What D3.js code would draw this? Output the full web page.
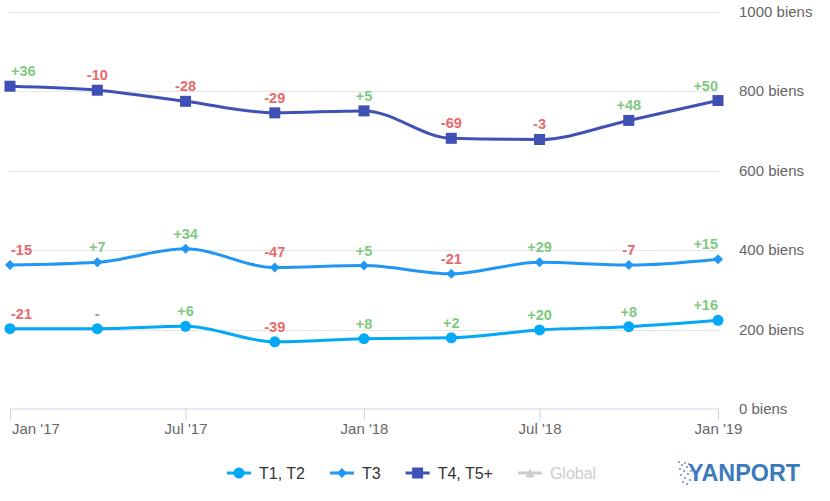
<!DOCTYPE html>
<html>
<head>
<meta charset="utf-8">
<script src="https://cdn.jsdelivr.net/npm/d3@7"></script>
<style>
  html, body { margin: 0; padding: 0; background: #fff; }
  svg { display: block; font-family: "Liberation Sans", Arial, sans-serif; }
</style>
</head>
<body>
<svg id="chart" width="830" height="501"></svg>
<script>
// ---- Data ----
const dates = ["2017-01-01","2017-04-01","2017-07-01","2017-10-01","2018-01-01","2018-04-01","2018-07-01","2018-10-01","2019-01-01"];
const t1t2 = [202, 202, 208, 169, 177, 179, 199, 207, 223];
const t3   = [362, 369, 403, 356, 361, 340, 369, 362, 377];
const t4t5 = [812, 802, 774, 745, 750, 681, 678, 726, 776];
const t1t2Labels = ["-21", "-", "+6", "-39", "+8", "+2", "+20", "+8", "+16"];
const t3Labels   = ["-15", "+7", "+34", "-47", "+5", "-21", "+29", "-7", "+15"];
const t4t5Labels = ["+36", "-10", "-28", "-29", "+5", "-69", "-3", "+48", "+50"];
const yTicks = [0, 200, 400, 600, 800, 1000];
const xTickDates = ["2017-01-01","2017-07-01","2018-01-01","2018-07-01","2019-01-01"];
const xTickLabels = ["Jan '17", "Jul '17", "Jan '18", "Jul '18", "Jan '19"];
const seriesNames = ["T1, T2", "T3", "T4, T5+", "Global"];

(function () {
// ---- Setup ----
const svg = d3.select("#chart");
const parse = d3.timeParse("%Y-%m-%d");
const pLeft = 10, pRight = 718, pTop = 11.5, pBottom = 409;
const x = d3.scaleTime().domain([parse(dates[0]), parse(dates[dates.length - 1])]).range([pLeft, pRight]);
const y = d3.scaleLinear().domain([0, 1000]).range([pBottom, pTop]);

const series = [
  { name: seriesNames[0], values: t1t2, labels: t1t2Labels, color: "#03A9F4", marker: "circle" },
  { name: seriesNames[1], values: t3, labels: t3Labels, color: "#2196F3", marker: "diamond" },
  { name: seriesNames[2], values: t4t5, labels: t4t5Labels, color: "#3F51B5", marker: "square" }
];

// ---- Grid lines ----
svg.append("g").selectAll("line").data(yTicks.filter(d => d > 0)).join("line")
  .attr("x1", pLeft).attr("x2", pRight)
  .attr("y1", d => Math.round(y(d)) + 0.5).attr("y2", d => Math.round(y(d)) + 0.5)
  .attr("stroke", "#e6e6e6").attr("stroke-width", 1);

// ---- Y axis labels (right) ----
svg.append("g").selectAll("text").data(yTicks).join("text")
  .attr("x", 739).attr("y", d => y(d) + 5)
  .attr("font-size", 15).attr("fill", "#666666")
  .text(d => d + " biens");

// ---- X axis ----
const xAxis = d3.axisBottom(x)
  .tickValues(xTickDates.map(parse))
  .tickSize(12)
  .tickFormat((d, i) => xTickLabels[i]);
const gx = svg.append("g").attr("transform", `translate(0,${pBottom - 0.5})`).call(xAxis);
gx.select(".domain").attr("stroke", "#ccd6eb").attr("d", `M${pLeft},0.5H${pRight}`);
gx.selectAll(".tick line").attr("stroke", "#ccd6eb");
gx.selectAll(".tick text")
  .attr("font-family", '"Liberation Sans", Arial, sans-serif')
  .attr("font-size", 15).attr("fill", "#666666").attr("dy", null).attr("y", 25);
gx.selectAll(".tick text").filter((d, i) => i === 0).attr("text-anchor", "start").attr("dx", 1.5);

// ---- Lines ----
const line = d3.line()
  .x((d, i) => x(parse(dates[i])))
  .y(d => y(d))
  .curve(d3.curveMonotoneX);

function drawMarker(g, type, cx, cy, color, s) {
  if (type === "circle") {
    g.append("circle").attr("cx", cx).attr("cy", cy).attr("r", s).attr("fill", color);
  } else if (type === "square") {
    g.append("rect").attr("x", cx - s).attr("y", cy - s).attr("width", 2 * s).attr("height", 2 * s).attr("fill", color);
  } else if (type === "diamond") {
    g.append("path").attr("d", `M${cx},${cy - s}L${cx + s},${cy}L${cx},${cy + s}L${cx - s},${cy}Z`).attr("fill", color);
  } else if (type === "triangle") {
    g.append("path").attr("d", `M${cx},${cy - s}L${cx + s},${cy + s}L${cx - s},${cy + s}Z`).attr("fill", color);
  }
}

const sizes = { circle: 5.5, square: 5.5, diamond: 5 };

series.forEach(s => {
  const g = svg.append("g");
  g.append("path").datum(s.values).attr("d", line)
    .attr("fill", "none").attr("stroke", s.color).attr("stroke-width", 3)
    .attr("stroke-linejoin", "round").attr("stroke-linecap", "round");
  s.values.forEach((v, i) => drawMarker(g, s.marker, x(parse(dates[i])), y(v), s.color, sizes[s.marker]));
});

// ---- Data labels ----
series.forEach(s => {
  const g = svg.append("g");
  s.values.forEach((v, i) => {
    const lab = s.labels[i];
    const col = lab.startsWith("+") ? "#7fc97f" : (lab === "-" ? "#999999" : "#e8696b");
    const t = g.append("text")
      .attr("font-size", 14.5).attr("font-weight", "bold").attr("fill", col)
      .attr("y", y(v) - 10)
      .text(lab);
    const w = t.node().getComputedTextLength();
    let lx = x(parse(dates[i])) - w / 2;
    lx = Math.max(11, Math.min(pRight - w, lx));
    t.attr("x", lx);
  });
});

// ---- Legend ----
const legendItems = [
  { name: seriesNames[0], color: "#03A9F4", marker: "circle", size: 5.5, text: "#333333" },
  { name: seriesNames[1], color: "#2196F3", marker: "diamond", size: 5, text: "#333333" },
  { name: seriesNames[2], color: "#3F51B5", marker: "square", size: 5.5, text: "#333333" },
  { name: seriesNames[3], color: "#cccccc", marker: "triangle", size: 4.5, text: "#cccccc" }
];
const lg = svg.append("g");
let lxPos = 227;
const ly = 473;
legendItems.forEach(it => {
  const g = lg.append("g");
  g.append("line").attr("x1", lxPos).attr("x2", lxPos + 24).attr("y1", ly).attr("y2", ly)
    .attr("stroke", it.color).attr("stroke-width", 3);
  drawMarker(g, it.marker, lxPos + 12, ly, it.color, it.size);
  const t = g.append("text").attr("x", lxPos + 32).attr("y", ly + 6)
    .attr("font-size", 16).attr("fill", it.text).text(it.name);
  lxPos += 32 + t.node().getComputedTextLength() + 25;
});

// ---- Logo ----
const logo = svg.append("g");
const dots = [[678,461],[681,464],[684,462],[679,468],[683,470],[686,466],[680,474],[684,477],[687,473],[682,481],[686,483],[689,479],[690,470],[688,463]];
dots.forEach(d => logo.append("rect").attr("x", d[0]).attr("y", d[1]).attr("width", 2).attr("height", 2).attr("fill", "#8fa9c9"));
logo.append("text").attr("x", 688).attr("y", 481).attr("font-size", 23).attr("font-weight", "bold")
  .attr("fill", "#3b7bbd").attr("textLength", 112).attr("lengthAdjust", "spacingAndGlyphs").text("YANPORT");
})();
</script>
</body>
</html>
